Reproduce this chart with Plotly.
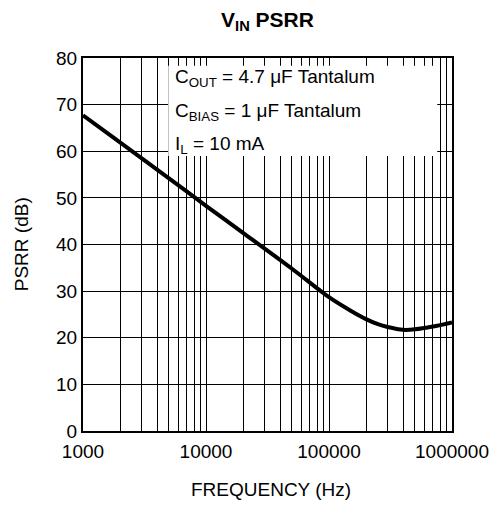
import plotly.graph_objects as go

# Data
freq_hz = [1000, 2000, 5000, 10000, 20000, 50000, 100000, 150000, 200000,
           250000, 300000, 400000, 500000, 700000, 1000000]
psrr_db = [67.7, 61.9, 54.2, 48.3, 42.5, 34.8, 28.7, 25.8, 24.0,
           22.9, 22.3, 21.7, 21.8, 22.4, 23.3]

decades = [1000, 10000, 100000, 1000000]
x_tick_vals = [m * d for d in decades[:-1] for m in range(1, 10)] + [decades[-1]]
x_tick_text = [str(v) if v in decades else "" for v in x_tick_vals]
y_tick_vals = [0, 10, 20, 30, 40, 50, 60, 70, 80]

notes = ["C<sub>OUT</sub> = 4.7 \u03bcF Tantalum",
         "C<sub>BIAS</sub> = 1 \u03bcF Tantalum",
         "I<sub>L</sub> = 10 mA"]

FONT = "Liberation Sans, Arial, Helvetica, sans-serif"

fig = go.Figure()
fig.add_trace(go.Scatter(
    x=freq_hz, y=psrr_db, mode="lines",
    line=dict(color="black", width=4, shape="spline", smoothing=0.8),
    showlegend=False, hoverinfo="skip",
))

fig.update_layout(
    width=494, height=508,
    margin=dict(l=83, r=42, t=58, b=77),
    paper_bgcolor="white", plot_bgcolor="white",
    font=dict(family=FONT, size=19, color="black"),
    title=dict(text="<b>V<sub>IN</sub> PSRR</b>", x=0.5, xanchor="center",
               xref="paper", y=0.962, yanchor="middle",
               font=dict(family=FONT, size=21, color="black")),
    xaxis=dict(type="log", range=[3, 6], tickvals=x_tick_vals, ticktext=x_tick_text,
               showgrid=True, gridcolor="black", gridwidth=1.2,
               showline=True, linecolor="black", linewidth=2, mirror=True,
               ticks="", zeroline=False, tickfont=dict(size=19),
               ticklabelstandoff=2, automargin=False),
    yaxis=dict(range=[0, 80], tickvals=y_tick_vals,
               showgrid=True, gridcolor="black", gridwidth=1.2,
               showline=True, linecolor="black", linewidth=2, mirror=True,
               ticks="", zeroline=False, tickfont=dict(size=19), automargin=False),
)

# white box behind the condition notes
fig.add_shape(type="rect", xref="paper", yref="paper",
              x0=0.231, x1=0.960, y0=0.737, y1=0.979,
              fillcolor="white", line=dict(width=0), layer="above")

for txt, yy in zip(notes, [0.946, 0.855, 0.767]):
    fig.add_annotation(text=txt, xref="paper", yref="paper", x=0.244, y=yy,
                       xanchor="left", yanchor="middle", showarrow=False,
                       font=dict(family=FONT, size=19, color="black"))

fig.add_annotation(text="FREQUENCY (Hz)", xref="paper", yref="paper",
                   x=0.51, y=-0.158, xanchor="center", yanchor="middle",
                   showarrow=False, font=dict(family=FONT, size=19, color="black"))
fig.add_annotation(text="PSRR (dB)", xref="paper", yref="paper",
                   x=-0.166, y=0.5, xanchor="center", yanchor="middle", textangle=-90,
                   showarrow=False, font=dict(family=FONT, size=19, color="black"))

fig.write_html("out.html", config={"displayModeBar": False},
               post_script="document.body.style.margin='0px';")
